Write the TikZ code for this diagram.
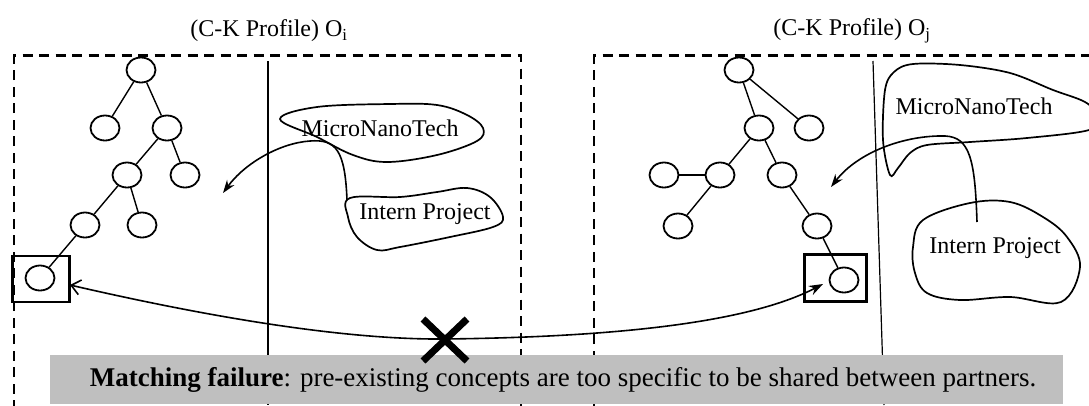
\documentclass[tikz,border=0pt]{standalone}
\usepackage{fontspec}
\setmainfont{Liberation Serif}
\usetikzlibrary{shapes.geometric,arrows.meta}
\definecolor{bargray}{RGB}{191,191,191}
\tikzset{
  cnode/.style={draw,ellipse,line width=1.8pt,minimum width=29pt,minimum height=25pt,inner sep=0pt},
  tedge/.style={line width=1.4pt},
  dashbox/.style={line width=2.4pt,dash pattern=on 10pt off 6.5pt},
  sepline/.style={line width=1.2pt},
  blob/.style={line width=1.7pt},
  selbox/.style={draw,line width=2.3pt},
  conn/.style={line width=1.6pt},
  lbl/.style={font=\fontsize{24}{28}\selectfont,inner sep=0pt},
}
\begin{document}
\begin{tikzpicture}[x=1pt,y=-1pt]
\useasboundingbox (0,0) rectangle (1089,405);
% titles
\node[lbl] (ti) at (269,31) {(C-K Profile) O\textsubscript{i}};
\node[lbl] (tj) at (852,31) {(C-K Profile) O\textsubscript{j}};
% dashed frames
\draw[dashbox] (14,410) -- (14,55.5) -- (521,55.5) -- (521,410);
\draw[dashbox] (594,410) -- (594,55.5) -- (1095,55.5);
% separators
\draw[sepline] (268,61) -- (268,405);
\draw[sepline] (873,61) -- (884,405);
% left tree
\node[cnode] (A) at (141,70) {};
\node[cnode] (B) at (105,128) {};
\node[cnode] (C) at (167,128) {};
\node[cnode] (D) at (127,175) {};
\node[cnode] (E) at (185,175) {};
\node[cnode] (F) at (85,225) {};
\node[cnode] (G) at (142,225) {};
\node[cnode] (H) at (40,278) {};
\foreach \a/\b in {A/B,A/C,C/D,C/E,D/F,D/G,F/H} \draw[tedge] (\a) -- (\b);
\node[selbox,minimum width=57pt,minimum height=46pt] (boxL) at (41,279) {};
% right tree
\node[cnode] (R) at (739,70) {};
\node[cnode] (S) at (759,128) {};
\node[cnode] (T) at (809,128) {};
\node[cnode] (U) at (720,175) {};
\node[cnode] (V) at (782,175) {};
\node[cnode] (W) at (664,175) {};
\node[cnode] (X) at (678,226) {};
\node[cnode] (Y) at (817,226) {};
\node[cnode] (Z) at (844,280) {};
\foreach \a/\b in {R/S,R/T,S/U,S/V,U/W,U/X,V/Y,Y/Z} \draw[tedge] (\a) -- (\b);
\node[selbox,minimum width=62pt,minimum height=47pt] (boxR) at (835.5,278) {};
% left blobs
\draw[blob] plot[smooth cycle,tension=0.6] coordinates {(280,119) (317,107) (390,104) (437,105) (467,115) (483,128) (477,141) (437,155) (387,162) (353,155) (317,137)};
\node[lbl] (mnL) at (380,128) {MicroNanoTech};
\draw[blob] plot[smooth cycle,tension=0.6] coordinates {(350,198) (400,197) (437,192) (467,188) (490,197) (503,217) (493,227) (450,237) (400,247) (377,250) (357,237) (348,217)};
\node[lbl] (ipL) at (425,214) {Intern Project};
% right blobs
\draw[blob] plot[smooth cycle,tension=0.55] coordinates {(890,175) (883,140) (885,90) (894,72) (913,64) (960,65) (1010,73) (1053,90) (1085,102) (1098,116) (1089,130) (1027,138) (970,142) (927,145) (910,153) (898,168)};
\node[lbl] (mnR) at (974,106) {MicroNanoTech};
\draw[blob] plot[smooth cycle,tension=0.6] coordinates {(913,247) (923,220) (970,203) (1010,202) (1043,217) (1067,237) (1080,267) (1061,302) (1010,297) (960,300) (927,293) (915,273)};
\node[lbl] (ipR) at (995,248) {Intern Project};
% connectors inside frames
\coordinate (cLs) at (347,200);
\coordinate (cLe) at (223,193);
\draw[conn,-{Stealth[length=13pt,width=9pt]}] (cLs) .. controls (345,150) and (336,139) .. (310,141) .. controls (280,143) and (245,163) .. (cLe);
\coordinate (cRs) at (977,222);
\coordinate (cRe) at (831,187);
\draw[conn,-{Stealth[length=13pt,width=9pt]}] (cRs) .. controls (975,160) and (970,137) .. (945,136) .. controls (905,135) and (858,152) .. (cRe);
% big matching arrow
\coordinate (mL) at (70,285);
\coordinate (mR) at (823,284);
\draw[conn,{Straight Barb[length=9pt,width=15pt]}-{Stealth[length=14pt,width=10pt]}] (mL) .. controls (200,315) and (340,340) .. (445,339) .. controls (620,337) and (750,322) .. (mR);
% bottom bar
\node[fill=bargray,minimum width=1013pt,minimum height=49pt,inner sep=0pt] (bar) at (556.5,379.5) {};
\node[font=\fontsize{27}{31}\selectfont,inner sep=0pt] (msg) at (563,380) {\textbf{Matching failure}: pre-existing concepts are too specific to be shared between partners.};
% cross
\coordinate (xc) at (445,340);
\draw[line width=7pt] ([shift={(-22,-21)}]xc) -- ([shift={(22,21)}]xc);
\draw[line width=7pt] ([shift={(-22,21)}]xc) -- ([shift={(22,-21)}]xc);
\end{tikzpicture}
\end{document}
